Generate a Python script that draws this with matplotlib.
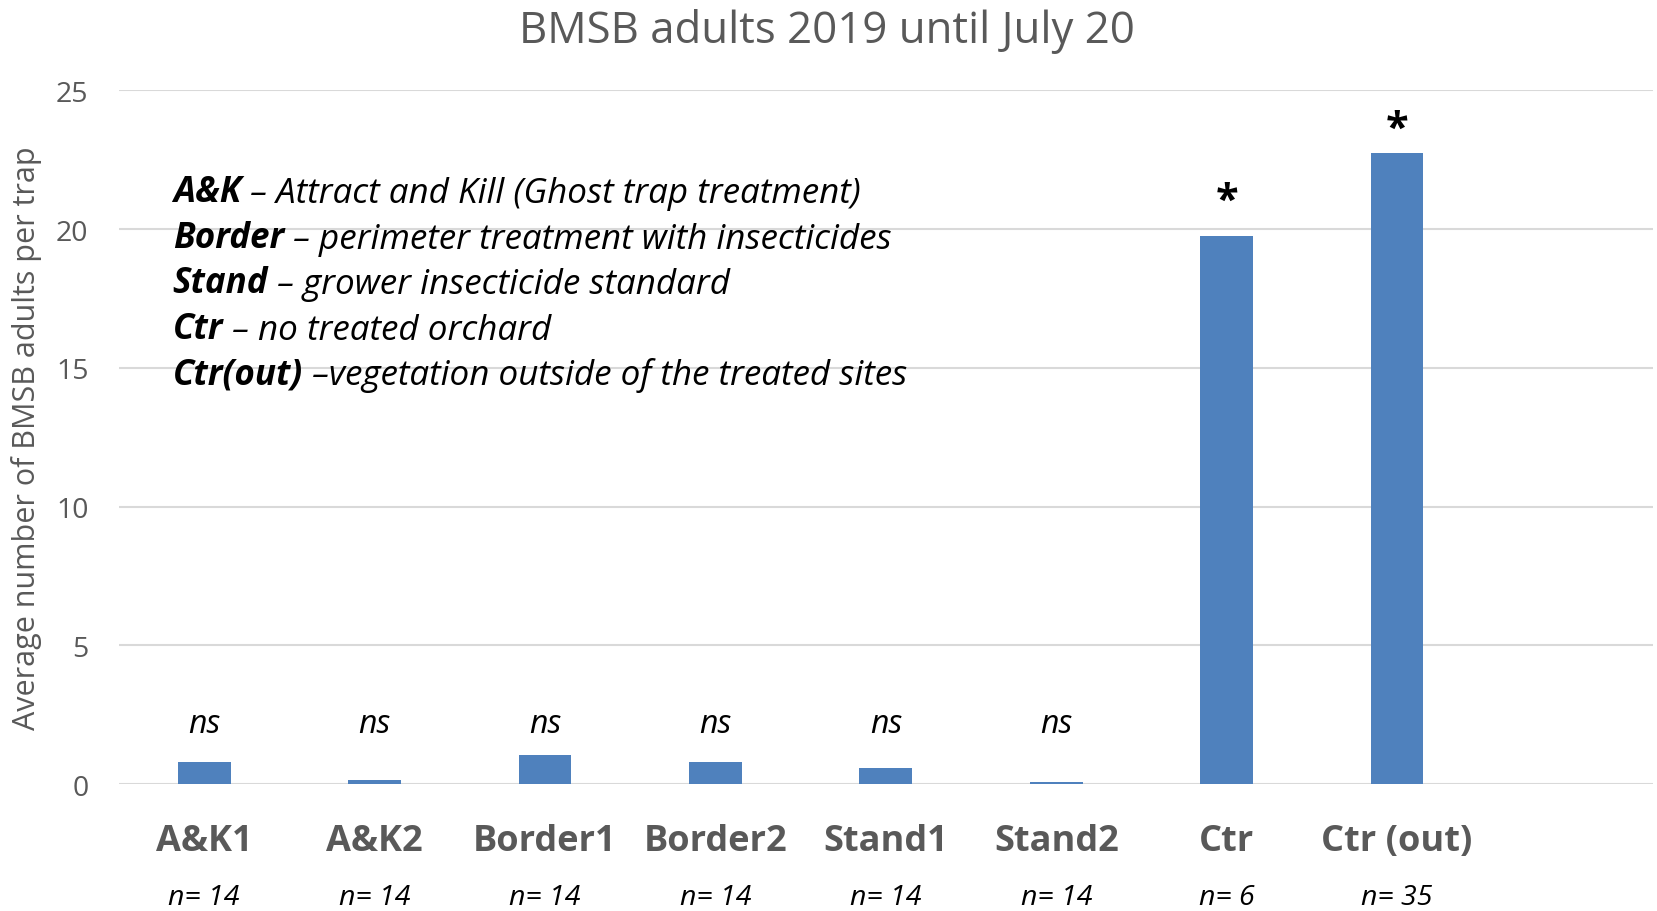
import matplotlib.pyplot as plt
import matplotlib.transforms as mtransforms

plt.rcParams['font.family'] = ['Open Sans', 'DejaVu Sans']

# data
sites = ['A&K1', 'A&K2', 'Border1', 'Border2', 'Stand1', 'Stand2', 'Ctr', 'Ctr (out)']
means = [0.80, 0.15, 1.07, 0.80, 0.57, 0.08, 19.74, 22.75]
n_traps = ['n= 14', 'n= 14', 'n= 14', 'n= 14', 'n= 14', 'n= 14', 'n= 6', 'n= 35']
signif = ['ns', 'ns', 'ns', 'ns', 'ns', 'ns', '*', '*']
sig_y = [2.2, 2.2, 2.2, 2.2, 2.2, 2.2, 21.0, 23.6]
legend_terms = ['A&K', 'Border', 'Stand', 'Ctr', 'Ctr(out)']
legend_desc = [' \u2013 Attract and Kill (Ghost trap treatment)',
               ' \u2013 perimeter treatment with insecticides',
               ' \u2013 grower insecticide standard',
               ' \u2013 no treated orchard',
               ' \u2013vegetation outside of the treated sites']

grey = '#595959'
fig = plt.figure(figsize=(16.58, 9.12), dpi=100)
ax = fig.add_axes([0.0718, 0.139, 0.925, 0.761])

x = list(range(len(sites)))
ax.bar(x, means, width=0.31, color='#4F81BD', zorder=3)

ax.set_xlim(-0.5, 8.5)
ax.set_ylim(0, 25)
ax.set_yticks([0, 5, 10, 15, 20, 25])
ax.grid(axis='y', color='#D9D9D9', linewidth=1.5, zorder=0)
for s in ax.spines.values():
    s.set_visible(False)
ax.tick_params(axis='y', length=0, pad=22, labelsize=20.5, labelcolor=grey)
ax.tick_params(axis='x', length=0, pad=28, labelsize=26, labelcolor=grey)
ax.set_xticks(x)
ax.set_xticklabels(sites, fontweight='bold')
ax.set_ylabel('Average number of BMSB adults per trap', fontsize=22, color=grey, labelpad=10)
fig.text(0.4987, 0.965, 'BMSB adults 2019 until July 20', fontsize=31.5, color=grey,
         ha='center', va='center')

for xi, lab, yy in zip(x, signif, sig_y):
    if lab == '*':
        ax.text(xi, yy, lab, ha='center', va='center', fontsize=30, fontweight='bold')
    else:
        ax.text(xi, yy, lab, ha='center', va='center', fontsize=23, style='italic')

trans = mtransforms.blended_transform_factory(ax.transData, ax.transAxes)
for xi, lab in zip(x, n_traps):
    ax.text(xi, -0.163, lab, transform=trans, ha='center', va='center',
            fontsize=20.5, style='italic', clip_on=False)

for i, (term, desc) in enumerate(zip(legend_terms, legend_desc)):
    yy = 0.84 - i * 0.0655
    t = ax.text(0.035, yy, term, transform=ax.transAxes, fontsize=25.2,
                style='italic', fontweight='bold', va='baseline')
    ax.annotate(desc, xy=(1, 0), xycoords=t, fontsize=25.2, style='italic',
                va='bottom')

fig.savefig('out.png', dpi=100)
